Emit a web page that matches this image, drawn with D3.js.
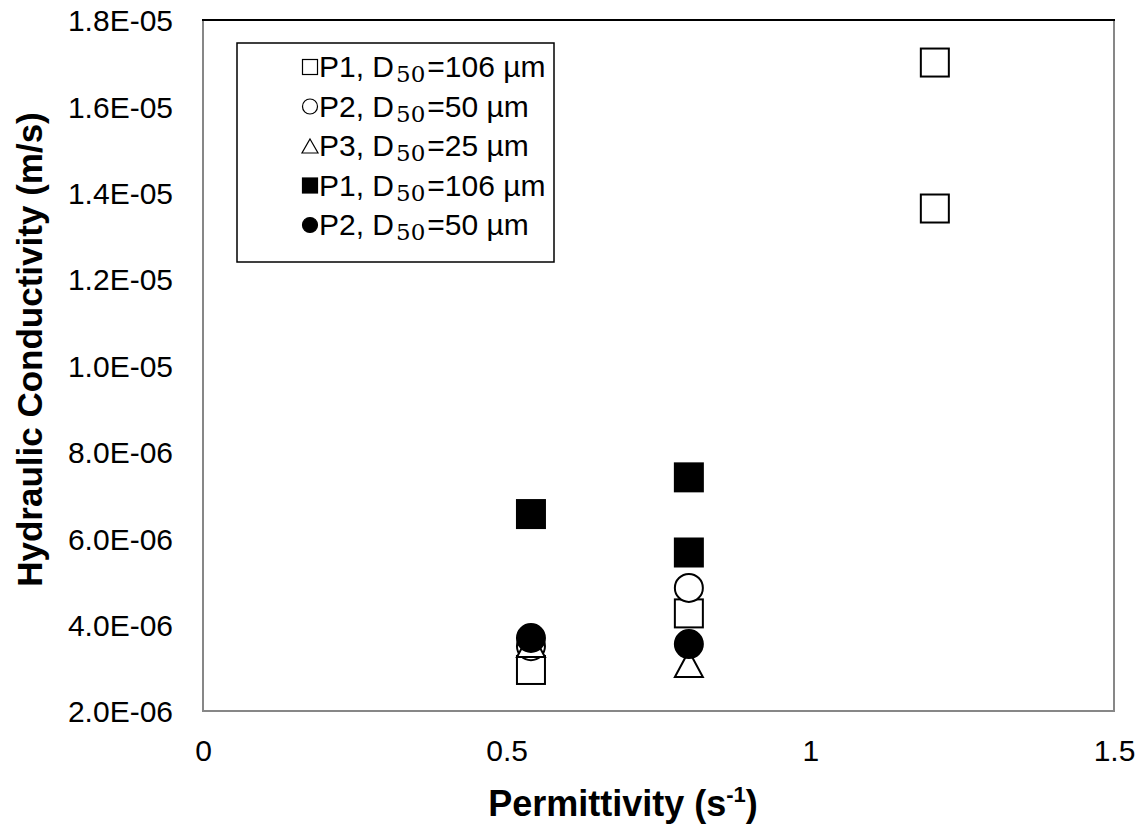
<!DOCTYPE html>
<html><head><meta charset="utf-8">
<script src="https://cdn.jsdelivr.net/npm/d3@7"></script>
<style>body{margin:0;background:#fff}svg{display:block}</style>
</head><body>
<script>
// ---- data ----
const p1OpenX = [0.54, 0.80, 1.205, 1.205];
const p1OpenY = [2.95e-6, 4.26e-6, 1.7015e-5, 1.3635e-5];
const p2OpenX = [0.54, 0.80];
const p2OpenY = [3.50e-6, 4.85e-6];
const p3OpenX = [0.54, 0.80];
const p3OpenY = [3.55e-6, 3.09e-6];
const p1FillX = [0.54, 0.80, 0.80];
const p1FillY = [6.56e-6, 7.41e-6, 5.67e-6];
const p2FillX = [0.54, 0.80];
const p2FillY = [3.69e-6, 3.55e-6];
const xTicks = [0, 0.5, 1, 1.5];
const xTickLabels = ["0", "0.5", "1", "1.5"];
const yTicks = [2e-6, 4e-6, 6e-6, 8e-6, 1e-5, 1.2e-5, 1.4e-5, 1.6e-5, 1.8e-5];
const yTickLabels = ["2.0E-06","4.0E-06","6.0E-06","8.0E-06","1.0E-05","1.2E-05","1.4E-05","1.6E-05","1.8E-05"];
const legendNames = ["P1", "P2", "P3", "P1", "P2"];
const legendD50 = ["106", "50", "25", "106", "50"];
const legendShapes = ["square", "circle", "triangle", "square", "circle"];
const legendFilled = [false, false, false, true, true];

const W = 1145, H = 828;
const L = 203, R = 1114, T = 20, B = 711;
const svg = d3.select("body").append("svg").attr("width", W).attr("height", H);
const x = d3.scaleLinear().domain([0, 1.5]).range([L, R]);
const y = d3.scaleLinear().domain([2e-6, 1.8e-5]).range([B, T]);

// frame
svg.append("rect").attr("x", L).attr("y", T).attr("width", R - L).attr("height", B - T)
  .attr("fill", "none").attr("stroke", "#878787").attr("stroke-width", 2);
svg.append("line").attr("x1", L - 1).attr("x2", R + 1).attr("y1", T).attr("y2", T)
  .attr("stroke", "#000").attr("stroke-width", 2);

// axes
const font = "Arial, 'Liberation Sans', sans-serif";
const xAxis = d3.axisBottom(x).tickValues(xTicks).tickSize(0).tickPadding(0)
  .tickFormat((d, i) => xTickLabels[i]);
const gx = svg.append("g").attr("transform", `translate(0,${B + 50})`).call(xAxis);
gx.select(".domain").remove();
gx.selectAll("text").attr("font-family", font).attr("font-size", 30).attr("fill", "#000").attr("dy", 0);

const yAxis = d3.axisLeft(y).tickValues(yTicks).tickSize(0).tickPadding(0)
  .tickFormat((d, i) => yTickLabels[i]);
const gy = svg.append("g").attr("transform", `translate(${L - 30},0)`).call(yAxis);
gy.select(".domain").remove();
gy.selectAll("text").attr("font-family", font).attr("font-size", 30).attr("fill", "#000").attr("dy", "0.36em");

// titles
const xt = svg.append("text").attr("x", 623).attr("y", 816).attr("text-anchor", "middle")
  .attr("font-family", font).attr("font-weight", "bold").attr("font-size", 36).attr("fill", "#000");
xt.append("tspan").text("Permittivity (s");
xt.append("tspan").text("-1").attr("font-size", 22).attr("dy", -14);
xt.append("tspan").text(")").attr("dy", 14);

svg.append("text").attr("transform", `translate(42,${(T + B) / 2 - 16}) rotate(-90)`)
  .attr("text-anchor", "middle").attr("font-family", font).attr("font-weight", "bold")
  .attr("font-size", 35).attr("fill", "#000").text("Hydraulic Conductivity (m/s)");

// markers
const sq = 28, cr = 14;
function draw(xs, ys, shape, filled) {
  const data = xs.map((v, i) => [v, ys[i]]);
  const g = svg.append("g");
  const fill = filled ? "#000" : "#fff";
  if (shape === "square") {
    g.selectAll("rect").data(data).join("rect")
      .attr("x", d => x(d[0]) - sq / 2).attr("y", d => y(d[1]) - sq / 2)
      .attr("width", sq).attr("height", sq).attr("fill", fill).attr("stroke", "#000").attr("stroke-width", 2);
  } else if (shape === "circle") {
    g.selectAll("circle").data(data).join("circle")
      .attr("cx", d => x(d[0])).attr("cy", d => y(d[1])).attr("r", cr)
      .attr("fill", fill).attr("stroke", "#000").attr("stroke-width", 2);
  } else {
    g.selectAll("path").data(data).join("path")
      .attr("d", d => `M${x(d[0])},${y(d[1]) - 13} L${x(d[0]) + 14},${y(d[1]) + 13} L${x(d[0]) - 14},${y(d[1]) + 13} Z`)
      .attr("fill", fill).attr("stroke", "#000").attr("stroke-width", 2);
  }
}
draw(p1OpenX, p1OpenY, "square", false);
draw(p2OpenX, p2OpenY, "circle", false);
draw(p3OpenX, p3OpenY, "triangle", false);
draw(p1FillX, p1FillY, "square", true);
draw(p2FillX, p2FillY, "circle", true);

// legend
const lg = svg.append("g");
lg.append("rect").attr("x", 237).attr("y", 43).attr("width", 317).attr("height", 219)
  .attr("fill", "#fff").attr("stroke", "#000").attr("stroke-width", 1.5);
legendNames.forEach((nm, i) => {
  const cy = 67 + i * 39.5;
  const mx = 310, s = 15;
  const fill = legendFilled[i] ? "#000" : "#fff";
  if (legendShapes[i] === "square") {
    lg.append("rect").attr("x", mx - s / 2).attr("y", cy - s / 2).attr("width", s).attr("height", s)
      .attr("fill", fill).attr("stroke", "#000").attr("stroke-width", 1.2);
  } else if (legendShapes[i] === "circle") {
    lg.append("circle").attr("cx", mx).attr("cy", cy).attr("r", s / 2)
      .attr("fill", fill).attr("stroke", "#000").attr("stroke-width", 1.2);
  } else {
    lg.append("path").attr("d", `M${mx},${cy - 7} L${mx + 8},${cy + 7} L${mx - 8},${cy + 7} Z`)
      .attr("fill", fill).attr("stroke", "#000").attr("stroke-width", 1.2);
  }
  const t = lg.append("text").attr("x", 319).attr("y", cy + 10).attr("font-family", font)
    .attr("font-size", 30).attr("fill", "#000");
  t.append("tspan").text(nm + ", D");
  t.append("tspan").text("50").attr("font-family", "'DejaVu Serif', serif").attr("font-size", 23)
    .attr("dx", 2).attr("dy", 5);
  t.append("tspan").text("=" + legendD50[i] + " µm").attr("dx", 2).attr("dy", -5);
});
</script>
</body></html>
